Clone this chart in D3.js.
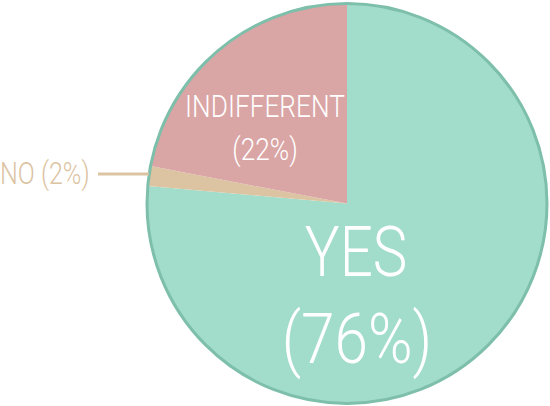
<!DOCTYPE html>
<html>
<head>
<meta charset="utf-8">
<script src="https://cdn.jsdelivr.net/npm/d3@7"></script>
<style>
  body { margin: 0; background: #fff; }
  text { font-family: Roboto, sans-serif; font-weight: 300; }
</style>
</head>
<body>
<svg id="chart" width="550" height="406"></svg>
<script>
const categories = ["YES", "NO", "INDIFFERENT"];
const values = [76.4, 1.6, 22];
const colors = ["#a2dcca", "#dcc4a3", "#daa5a5"];

const data = categories.map((c, i) => ({ name: c, value: values[i], color: colors[i] }));

const svg = d3.select("#chart");
const cx = 347, cy = 203.5, r = 200;

const pie = d3.pie().sort(null).value(d => d.value);
const arc = d3.arc().innerRadius(0).outerRadius(r);
const arcs = pie(data);
const pct = d => Math.round(d.data.value) + "%";

const g = svg.append("g").attr("transform", `translate(${cx},${cy})`);

g.selectAll("path")
  .data(arcs)
  .enter()
  .append("path")
  .attr("d", arc)
  .attr("fill", d => d.data.color);

// outer ring
g.append("circle")
  .attr("r", r)
  .attr("fill", "none")
  .attr("stroke", "#7dbfaa")
  .attr("stroke-width", 3);

// condensed look: squeeze text horizontally
function label(x, y, str, size, color, sx) {
  svg.append("text")
    .attr("transform", `translate(${x},${y}) scale(${sx || 0.82},1)`)
    .attr("text-anchor", "middle")
    .attr("font-size", size)
    .attr("fill", color)
    .text(str);
}

// YES
const yes = arcs[0];
label(356, 276, "YES", 71, "#fff");
label(357, 363, `(${pct(yes)})`, 71, "#fff", 0.85);

// INDIFFERENT
const ind = arcs[2];
label(265, 117, "INDIFFERENT", 32, "#fff");
label(265, 160, `(${pct(ind)})`, 32, "#fff");

// NO, outside with leader line
const no = arcs[1];
const mid = (no.startAngle + no.endAngle) / 2;
const ly = cy - r * Math.cos(mid) - 2;
svg.append("line")
  .attr("x1", 98).attr("x2", cx + r * Math.sin(mid))
  .attr("y1", ly).attr("y2", ly)
  .attr("stroke", "#dcc4a3")
  .attr("stroke-width", 3);
svg.append("text")
  .attr("transform", `translate(0,${ly + 10}) scale(0.81,1)`)
  .attr("font-size", 31)
  .attr("fill", "#dcc4a3")
  .text(`${no.data.name} (${pct(no)})`);
</script>
</body>
</html>
